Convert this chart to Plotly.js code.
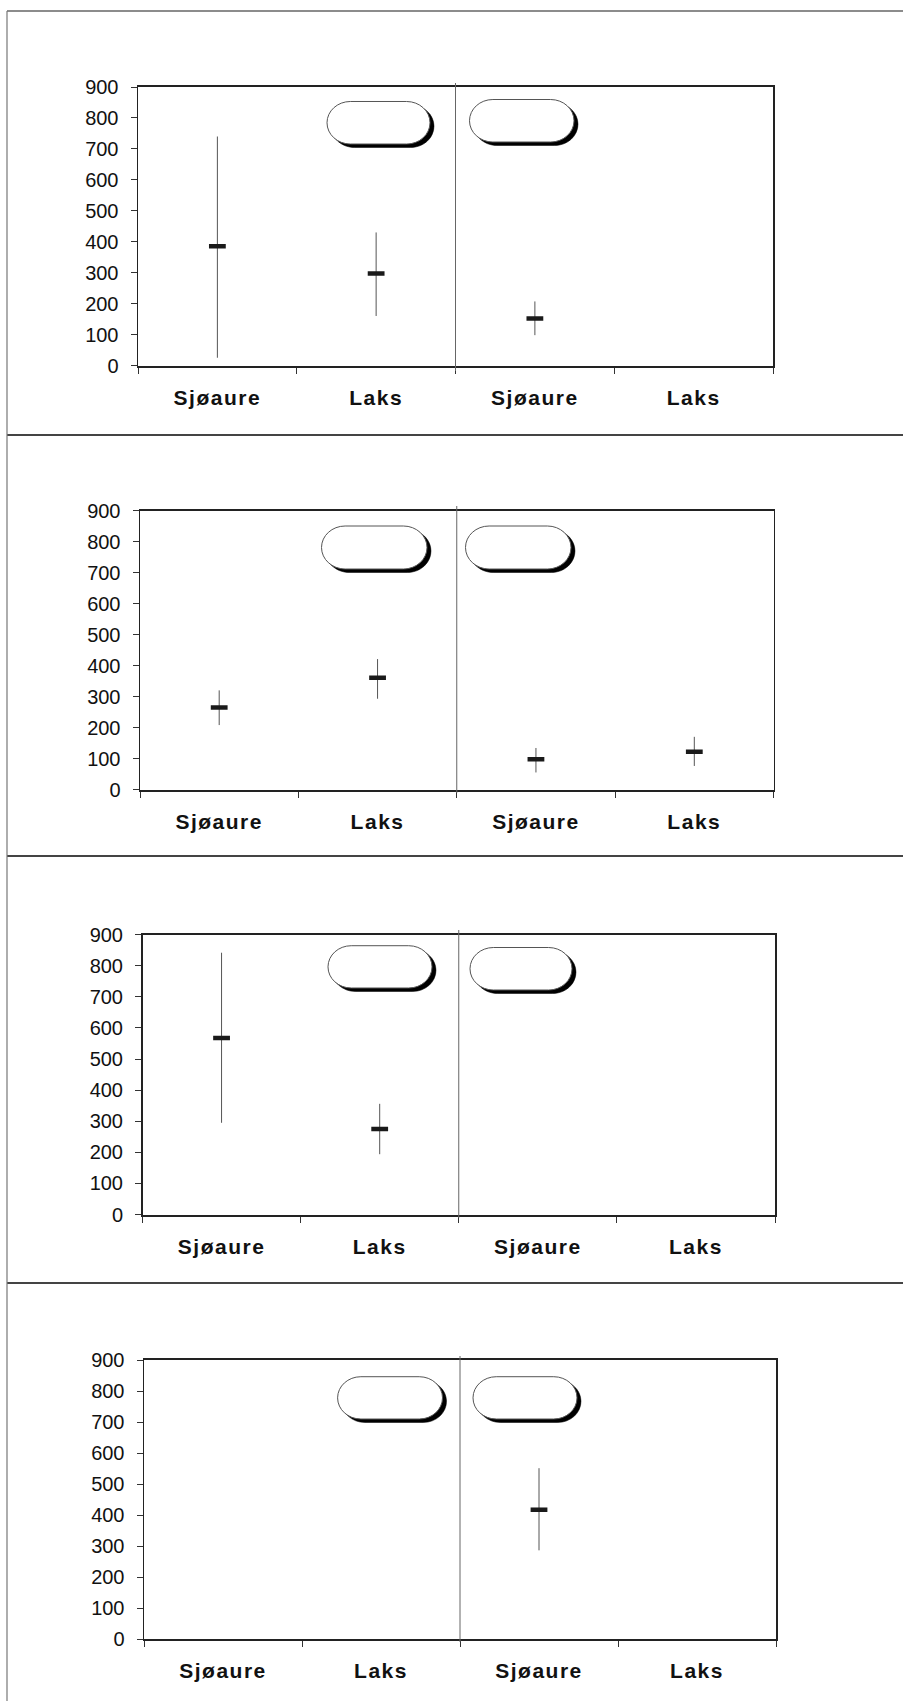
<!DOCTYPE html>
<html>
<head>
<meta charset="utf-8">
<script src="https://cdn.plot.ly/plotly-3.0.1.min.js"></script>
<style>
  html, body { margin: 0; padding: 0; background: #ffffff; }
  #chart { width: 903px; height: 1701px; }
  .xtick text, .x2tick text, .x3tick text, .x4tick text { letter-spacing: 1.5px; }
</style>
</head>
<body>
<div id="chart"></div>
<script>
// ---------------- data ----------------
const categories = ['Sjøaure', 'Laks', 'Sjøaure', 'Laks'];
const yTickVals = [0, 100, 200, 300, 400, 500, 600, 700, 800, 900];

const panel1Mean = [385, 297, 152, null];
const panel1High = [740, 430, 207, null];
const panel1Low  = [25, 160, 98, null];

const panel2Mean = [265, 361, 98, 122];
const panel2High = [320, 421, 134, 170];
const panel2Low  = [208, 293, 55, 76];

const panel3Mean = [568, 275, null, null];
const panel3High = [842, 356, null, null];
const panel3Low  = [295, 194, null, null];

const panel4Mean = [null, null, 417, null];
const panel4High = [null, null, 551, null];
const panel4Low  = [null, null, 286, null];

// ---------------- layout geometry (pixels) ----------------
const W = 903, H = 1701;
const px = x => x / W;
const py = y => 1 - y / H;

const panelBoxes = [
  { x0: 138, x1: 773, y0: 87, y1: 365.5, divTop: 83, divBot: 371,
    pills: [[327, 101.5, 430, 144], [469.5, 99.5, 574, 142]] },
  { x0: 140, x1: 773.5, y0: 510.7, y1: 789.5, divTop: 506, divBot: 793,
    pills: [[321.5, 526, 427, 569], [465.5, 526, 571, 569]] },
  { x0: 142.5, x1: 775, y0: 934.7, y1: 1214.5, divTop: 930, divBot: 1218,
    pills: [[328, 945.7, 432, 988], [470, 947.5, 572, 990]] },
  { x0: 144, x1: 776, y0: 1360, y1: 1639, divTop: 1356, divBot: 1642,
    pills: [[337.6, 1376.7, 442.5, 1419], [473, 1376.7, 577, 1419]] }
];
const panelSeparators = [11, 435, 856, 1283];

const panelData = [
  [panel1Mean, panel1High, panel1Low],
  [panel2Mean, panel2High, panel2Low],
  [panel3Mean, panel3High, panel3Low],
  [panel4Mean, panel4High, panel4Low]
];

const xCenters = categories.map((c, i) => i + 0.5);

const tickFont = { family: '"Liberation Sans Narrow", "Arial Narrow", "Liberation Sans", Arial, sans-serif', size: 20, color: '#111' };
const catFont  = { family: '"Liberation Sans Narrow", "Arial Narrow", "Liberation Sans", Arial, sans-serif', size: 21, color: '#111', weight: 'bold' };

const traces = [];
const layout = {
  width: W, height: H,
  margin: { l: 0, r: 0, t: 0, b: 0 },
  paper_bgcolor: '#ffffff',
  plot_bgcolor: '#ffffff',
  showlegend: false,
  shapes: []
};

function pillPath(b) {
  const [x0, y0, x1, y1] = b;
  const r = (y1 - y0) / 2;
  const rx = r * 1.1;
  const k = 0.5523;
  const P = (x, y) => px(x).toFixed(5) + ',' + py(y).toFixed(5);
  const ym = (y0 + y1) / 2;
  return 'M' + P(x0 + rx, y0) +
    ' L' + P(x1 - rx, y0) +
    ' C' + P(x1 - rx + k * rx, y0) + ' ' + P(x1, ym - k * r) + ' ' + P(x1, ym) +
    ' C' + P(x1, ym + k * r) + ' ' + P(x1 - rx + k * rx, y1) + ' ' + P(x1 - rx, y1) +
    ' L' + P(x0 + rx, y1) +
    ' C' + P(x0 + rx - k * rx, y1) + ' ' + P(x0, ym + k * r) + ' ' + P(x0, ym) +
    ' C' + P(x0, ym - k * r) + ' ' + P(x0 + rx - k * rx, y0) + ' ' + P(x0 + rx, y0) + ' Z';
}

panelBoxes.forEach((p, i) => {
  const n = i + 1;
  const xa = n === 1 ? 'xaxis' : 'xaxis' + n;
  const ya = n === 1 ? 'yaxis' : 'yaxis' + n;
  const xr = n === 1 ? 'x' : 'x' + n;
  const yr = n === 1 ? 'y' : 'y' + n;
  const [mean, hi, lo] = panelData[i];

  traces.push({
    type: 'scatter', mode: 'markers',
    x: xCenters, y: mean,
    xaxis: xr, yaxis: yr,
    marker: { symbol: 'line-ew', size: 12, color: '#111', line: { width: 4.5, color: '#1a1a1a' } },
    error_y: {
      type: 'data', symmetric: false,
      array: mean.map((m, j) => m === null ? null : hi[j] - m),
      arrayminus: mean.map((m, j) => m === null ? null : m - lo[j]),
      width: 0, thickness: 1, color: '#555'
    },
    hoverinfo: 'skip'
  });

  layout[xa] = {
    domain: [px(p.x0), px(p.x1)],
    anchor: yr,
    range: [0, 4],
    tickmode: 'array',
    tickvals: xCenters,
    ticktext: categories,
    ticks: '',
    ticklabelstandoff: 12,
    tickfont: catFont,
    showgrid: false, zeroline: false,
    showline: true, linecolor: '#222', linewidth: 2, mirror: true,
    minor: { tickmode: 'array', tickvals: [0, 1, 2, 3, 4], ticks: 'outside', ticklen: 6, tickcolor: '#333', tickwidth: 1, showgrid: false },
    fixedrange: true
  };
  layout[ya] = {
    domain: [py(p.y1), py(p.y0)],
    anchor: xr,
    range: [0, 900],
    tickmode: 'array',
    tickvals: yTickVals,
    ticktext: yTickVals.map(String),
    ticks: 'outside', ticklen: 6, tickcolor: '#333', tickwidth: 1,
    ticklabelstandoff: 8,
    tickfont: tickFont,
    showgrid: false, zeroline: false,
    showline: true, linecolor: '#222', linewidth: 1.5, mirror: true,
    fixedrange: true
  };

  // vertical divider between the two groups
  layout.shapes.push({
    type: 'line', xref: xr, yref: 'paper',
    x0: 2, x1: 2, y0: py(p.divBot), y1: py(p.divTop),
    line: { color: '#666', width: 1 }
  });

  // empty label ovals with drop shadow
  p.pills.forEach(b => {
    const sh = [b[0] + 4, b[1] + 3.5, b[2] + 4, b[3] + 3.5];
    layout.shapes.push({
      type: 'path', xref: 'paper', yref: 'paper', path: pillPath(sh),
      fillcolor: '#000', line: { color: '#000', width: 0.5 }, layer: 'above'
    });
    layout.shapes.push({
      type: 'path', xref: 'paper', yref: 'paper', path: pillPath(b),
      fillcolor: '#fff', line: { color: '#555', width: 1 }, layer: 'above'
    });
  });
});

// outer panel frames
panelSeparators.forEach((y, i) => {
  layout.shapes.push({
    type: 'line', xref: 'paper', yref: 'paper',
    x0: px(7), x1: 1, y0: py(y), y1: py(y),
    line: { color: i === 0 ? '#666' : '#444', width: i === 0 ? 1.5 : 2 }
  });
});
layout.shapes.push({
  type: 'line', xref: 'paper', yref: 'paper',
  x0: px(7), x1: px(7), y0: py(11), y1: 0,
  line: { color: '#777', width: 1.2 }
});

Plotly.newPlot('chart', traces, layout, { staticPlot: true, displayModeBar: false });
</script>
</body>
</html>
